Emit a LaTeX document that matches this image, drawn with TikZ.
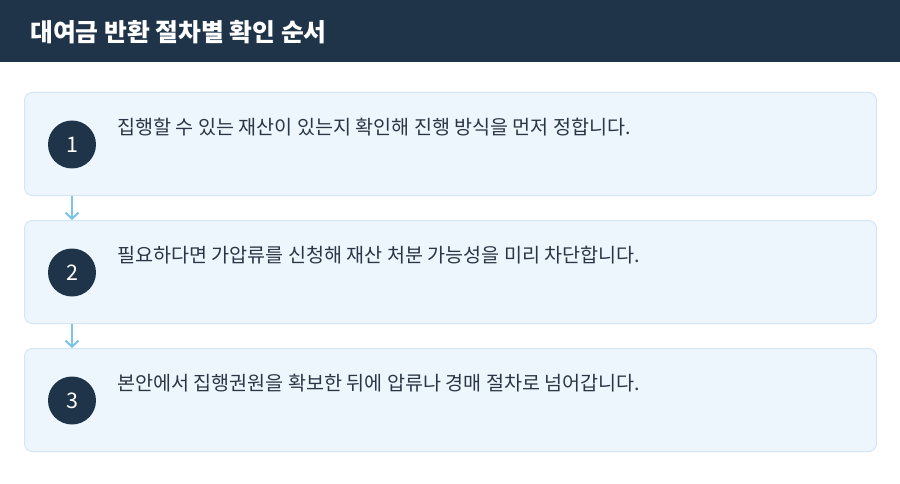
\documentclass[tikz,border=0pt]{standalone}
\usepackage{fontspec}
\setmainfont{Noto Sans CJK KR}
\usetikzlibrary{arrows.meta,positioning}
\definecolor{navy}{HTML}{1F3349}
\definecolor{boxfill}{HTML}{EEF6FD}
\definecolor{boxline}{HTML}{D3E6F6}
\definecolor{flow}{HTML}{7CC4EA}
\definecolor{ink}{HTML}{2A3645}
\tikzset{
  stepbox/.style={draw=boxline,fill=boxfill,line width=1pt,rounded corners=8pt,
    minimum width=852pt,minimum height=103pt,anchor=north west,inner sep=0pt},
  badge/.style={circle,fill=navy,minimum size=48pt,inner sep=0pt,text=white,
    font=\fontsize{21.5pt}{24pt}\selectfont},
  steptext/.style={anchor=west,text=ink,inner sep=0pt,
    font=\fontsize{19.6pt}{23pt}\selectfont},
  flowarrow/.style={-{Straight Barb[length=6pt,width=13pt]},draw=flow,line width=2pt}
}
\begin{document}
\begin{tikzpicture}[x=1pt,y=-1pt]
    \useasboundingbox (0,0) rectangle (900,484);
    \fill [white] (0,0) rectangle (900,484);
    \fill [navy] (0,0) rectangle (900,62);
    \node [anchor=west,text=white,inner sep=0pt,font=\fontsize{24.8pt}{28pt}\selectfont\bfseries] (title) at (30,32) {대여금 반환 절차별 확인 순서};

    \node [stepbox] (s1) at (24,92) {};
    \node [stepbox] (s2) at (24,220) {};
    \node [stepbox] (s3) at (24,348) {};

    \node [badge] (c1) at (72,144.5) {1};
    \node [badge] (c2) at (72,272.5) {2};
    \node [badge] (c3) at (72,400.5) {3};

    \node [steptext] (t1) at (117,127) {집행할 수 있는 재산이 있는지 확인해 진행 방식을 먼저 정합니다.};
    \node [steptext] (t2) at (117,255) {필요하다면 가압류를 신청해 재산 처분 가능성을 미리 차단합니다.};
    \node [steptext] (t3) at (117,383) {본안에서 집행권원을 확보한 뒤에 압류나 경매 절차로 넘어갑니다.};

    \draw [flowarrow] (s1.south -| c1) -- (s2.north -| c1);
    \draw [flowarrow] (s2.south -| c1) -- (s3.north -| c1);
\end{tikzpicture}
\end{document}
